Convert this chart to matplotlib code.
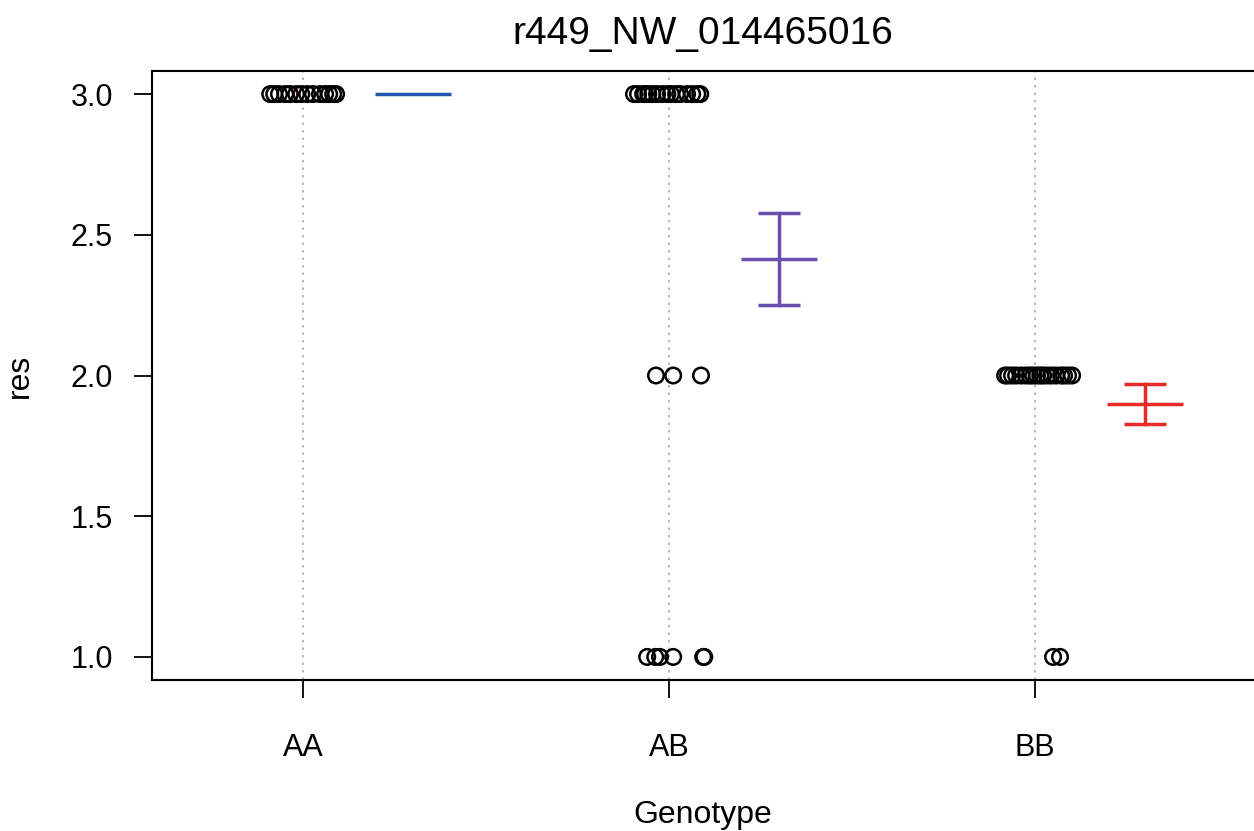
import matplotlib
matplotlib.use("Agg")
import matplotlib.pyplot as plt

plt.rcParams['font.family'] = ['Liberation Sans', 'DejaVu Sans']

title = "r449_NW_014465016"
genotypes = ["AA", "AB", "BB"]
ylabel = "res"
xlabel = "Genotype"

# jittered points: genotype index (1-based), x offset (jitter), value
aa_x = [-0.09, -0.079, -0.066, -0.049, -0.036, -0.019, -0.005, 0.011, 0.027, 0.046, 0.060, 0.071, 0.082, 0.090]
aa_y = [3.0] * 14
ab_x = [-0.096, -0.085, -0.071, -0.066, -0.057, -0.046, -0.033, -0.019, -0.005, 0.005, 0.019, 0.030, 0.049, 0.063, 0.077, 0.085,
        -0.036, 0.011, 0.087,
        -0.060, -0.038, -0.025, 0.011, 0.093, 0.096]
ab_y = [3.0] * 16 + [2.0] * 3 + [1.0] * 6
bb_x = [-0.082, -0.074, -0.063, -0.052, -0.038, -0.025, -0.014, -0.005, 0.005, 0.014, 0.022, 0.033, 0.044, 0.057, 0.071, 0.079, 0.090, 0.101,
        0.049, 0.068]
bb_y = [2.0] * 18 + [1.0] * 2
red_point = (1, -0.038, 3.0)

# group means and standard errors
means = [3.0, 2.414, 1.899]
ses = [0.0, 0.162, 0.07]
colors = ["#2557b0", "#6a4fae", "#e82a2a"]

fig = plt.figure(figsize=(12.54, 8.31), dpi=100)
ax = fig.add_axes([152 / 1254, 1 - 680 / 831, 1 - 152 / 1254, (680 - 71) / 831])

for i in range(1, 4):
    ax.axvline(i, color="#aaaaaa", linestyle=(0, (1.5, 3)), lw=1.2, zorder=0)

ax.scatter([red_point[0] + red_point[1]], [red_point[2]], s=125, facecolors="none",
           edgecolors="#e02020", linewidths=1.5, zorder=2)
for g, xs, ys in [(1, aa_x, aa_y), (2, ab_x, ab_y), (3, bb_x, bb_y)]:
    ax.scatter([g + o for o in xs], ys, s=125, facecolors="none", edgecolors="black",
               linewidths=1.8, zorder=3)

off = 0.3
hw = 0.104
cw = 0.057
for i, (m, s, c) in enumerate(zip(means, ses, colors)):
    x = i + 1 + off
    ax.plot([x - hw, x + hw], [m, m], color=c, lw=2.5, solid_capstyle="butt", zorder=4)
    if s > 0:
        ax.plot([x, x], [m - s, m + s], color=c, lw=2.5, zorder=4)
        ax.plot([x - cw, x + cw], [m + s, m + s], color=c, lw=2.5, solid_capstyle="butt", zorder=4)
        ax.plot([x - cw, x + cw], [m - s, m - s], color=c, lw=2.5, solid_capstyle="butt", zorder=4)

ax.set_xlim(0.587, 3.598)
ax.set_ylim(0.918, 3.082)
ax.set_xticks([1, 2, 3])
ax.set_xticklabels(genotypes)
ax.set_yticks([1.0, 1.5, 2.0, 2.5, 3.0])
ax.set_yticklabels(["1.0", "1.5", "2.0", "2.5", "3.0"])
ax.tick_params(axis="both", labelsize=22, length=13, width=1.3, color="black")
ax.tick_params(axis="x", pad=25)
ax.tick_params(axis="y", pad=15)
ax.spines["right"].set_visible(False)
for sp in ["left", "top", "bottom"]:
    ax.spines[sp].set_linewidth(1.5)

fig.text(703 / 1254, 1 - 34 / 831, title, ha="center", va="center", fontsize=28)
fig.text(703 / 1254, 1 - 815 / 831, xlabel, ha="center", va="center", fontsize=23)
fig.text(20 / 1254, 1 - 376 / 831, ylabel, ha="center", va="center", fontsize=23, rotation=90)

fig.savefig("out.png", dpi=100)
